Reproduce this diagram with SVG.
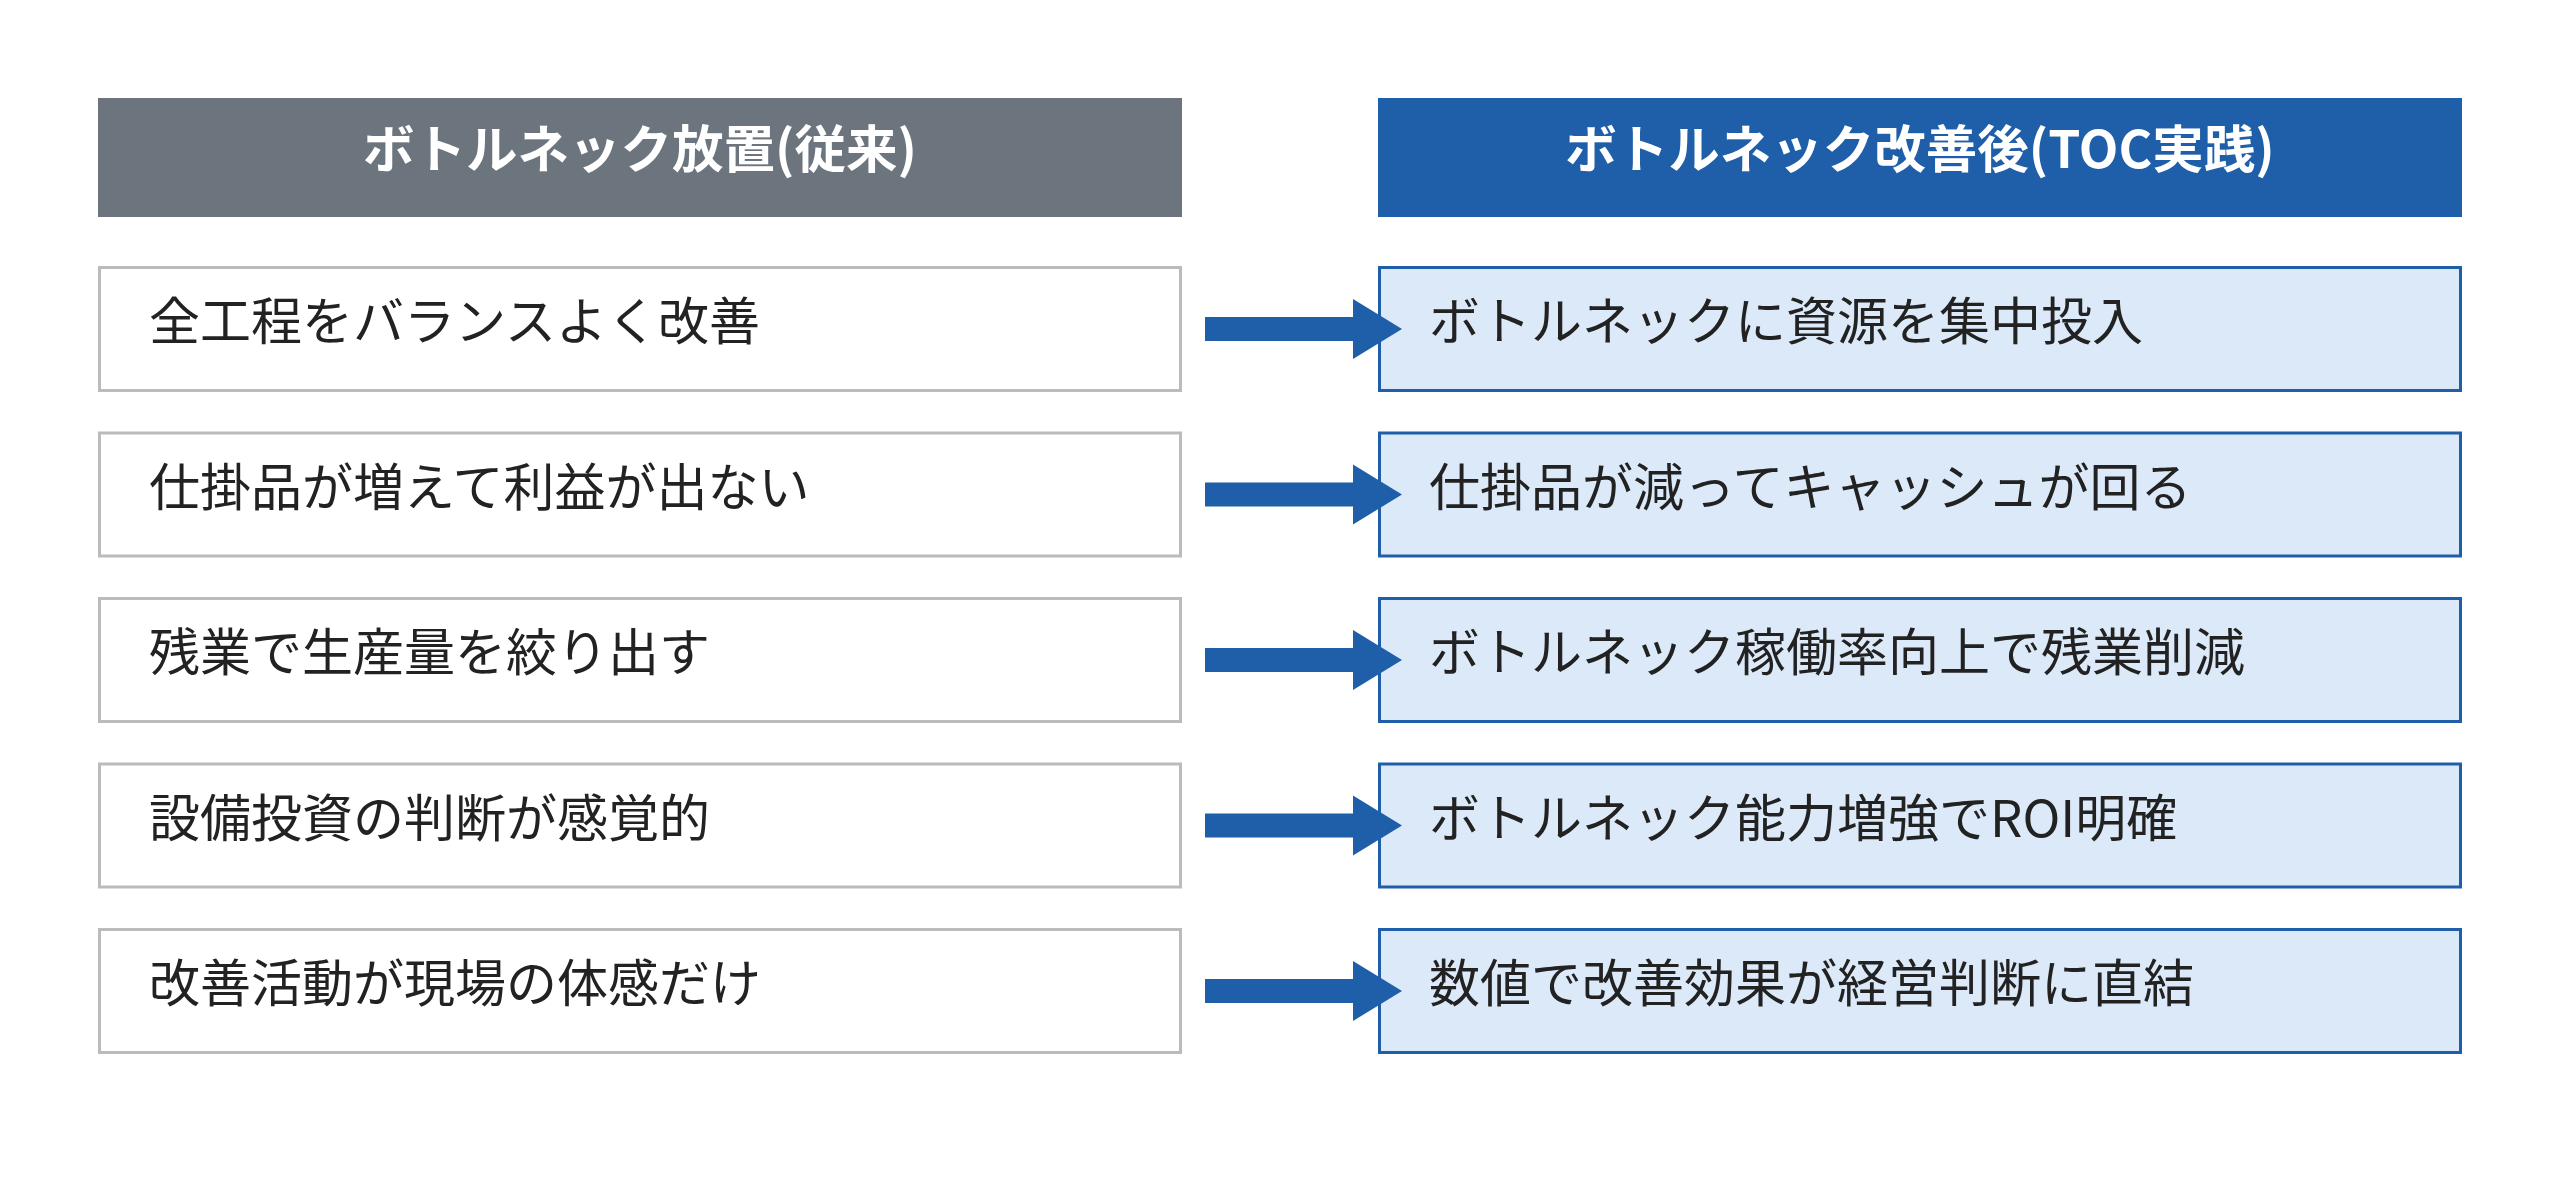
<svg xmlns="http://www.w3.org/2000/svg" width="2560" height="1191" viewBox="0 0 2560 1191">
  <style>
    .hdr-old { fill: #6c757d; }
    .hdr-new { fill: #1f5ea8; }
    .hdr-txt { font-family: "Noto Sans CJK JP", "Noto Sans", sans-serif; font-weight: 700; font-size: 51.5px; fill: #ffffff; text-anchor: middle; }
    .box-old { fill: #ffffff; stroke: #bbbbbb; stroke-width: 3; }
    .box-new { fill: #dce9f8; stroke: #1f5ea8; stroke-width: 3; }
    .txt { font-family: "Noto Sans CJK JP", "Noto Sans", sans-serif; font-size: 51px; fill: #222222; }
    .arrow { fill: #1f5ea8; }
  </style>
  <defs>
    <polygon id="arrowShape" points="1205,-12 1353,-12 1353,-30 1402,0 1353,30 1353,12 1205,12"/>
  </defs>
  <rect width="2560" height="1191" fill="#ffffff"/>

  <g id="header-old">
    <rect class="hdr-old" x="98" y="98" width="1084" height="119"/>
    <text class="hdr-txt" x="640" y="168">ボトルネック放置(従来)</text>
  </g>
  <g id="header-new">
    <rect class="hdr-new" x="1378" y="98" width="1084" height="119"/>
    <text class="hdr-txt" x="1920" y="168">ボトルネック改善後(TOC実践)</text>
  </g>

  <g id="old-1" transform="translate(0,266)">
    <rect class="box-old" x="99.5" y="1.5" width="1081" height="123"/>
    <text class="txt" x="149" y="74">全工程をバランスよく改善</text>
  </g>
  <g id="old-2" transform="translate(0,431.5)">
    <rect class="box-old" x="99.5" y="1.5" width="1081" height="123"/>
    <text class="txt" x="149" y="74">仕掛品が増えて利益が出ない</text>
  </g>
  <g id="old-3" transform="translate(0,597)">
    <rect class="box-old" x="99.5" y="1.5" width="1081" height="123"/>
    <text class="txt" x="149" y="74">残業で生産量を絞り出す</text>
  </g>
  <g id="old-4" transform="translate(0,762.5)">
    <rect class="box-old" x="99.5" y="1.5" width="1081" height="123"/>
    <text class="txt" x="149" y="74">設備投資の判断が感覚的</text>
  </g>
  <g id="old-5" transform="translate(0,928)">
    <rect class="box-old" x="99.5" y="1.5" width="1081" height="123"/>
    <text class="txt" x="149" y="74">改善活動が現場の体感だけ</text>
  </g>

  <g id="new-1" transform="translate(0,266)">
    <rect class="box-new" x="1379.5" y="1.5" width="1081" height="123"/>
    <text class="txt" x="1429" y="74">ボトルネックに資源を集中投入</text>
  </g>
  <g id="new-2" transform="translate(0,431.5)">
    <rect class="box-new" x="1379.5" y="1.5" width="1081" height="123"/>
    <text class="txt" x="1429" y="74">仕掛品が減ってキャッシュが回る</text>
  </g>
  <g id="new-3" transform="translate(0,597)">
    <rect class="box-new" x="1379.5" y="1.5" width="1081" height="123"/>
    <text class="txt" x="1429" y="74">ボトルネック稼働率向上で残業削減</text>
  </g>
  <g id="new-4" transform="translate(0,762.5)">
    <rect class="box-new" x="1379.5" y="1.5" width="1081" height="123"/>
    <text class="txt" x="1429" y="74">ボトルネック能力増強でROI明確</text>
  </g>
  <g id="new-5" transform="translate(0,928)">
    <rect class="box-new" x="1379.5" y="1.5" width="1081" height="123"/>
    <text class="txt" x="1429" y="74">数値で改善効果が経営判断に直結</text>
  </g>

  <g id="connectors">
    <use href="#arrowShape" class="arrow" transform="translate(0,329)"/>
    <use href="#arrowShape" class="arrow" transform="translate(0,494.5)"/>
    <use href="#arrowShape" class="arrow" transform="translate(0,660)"/>
    <use href="#arrowShape" class="arrow" transform="translate(0,825.5)"/>
    <use href="#arrowShape" class="arrow" transform="translate(0,991)"/>
  </g>
</svg>
